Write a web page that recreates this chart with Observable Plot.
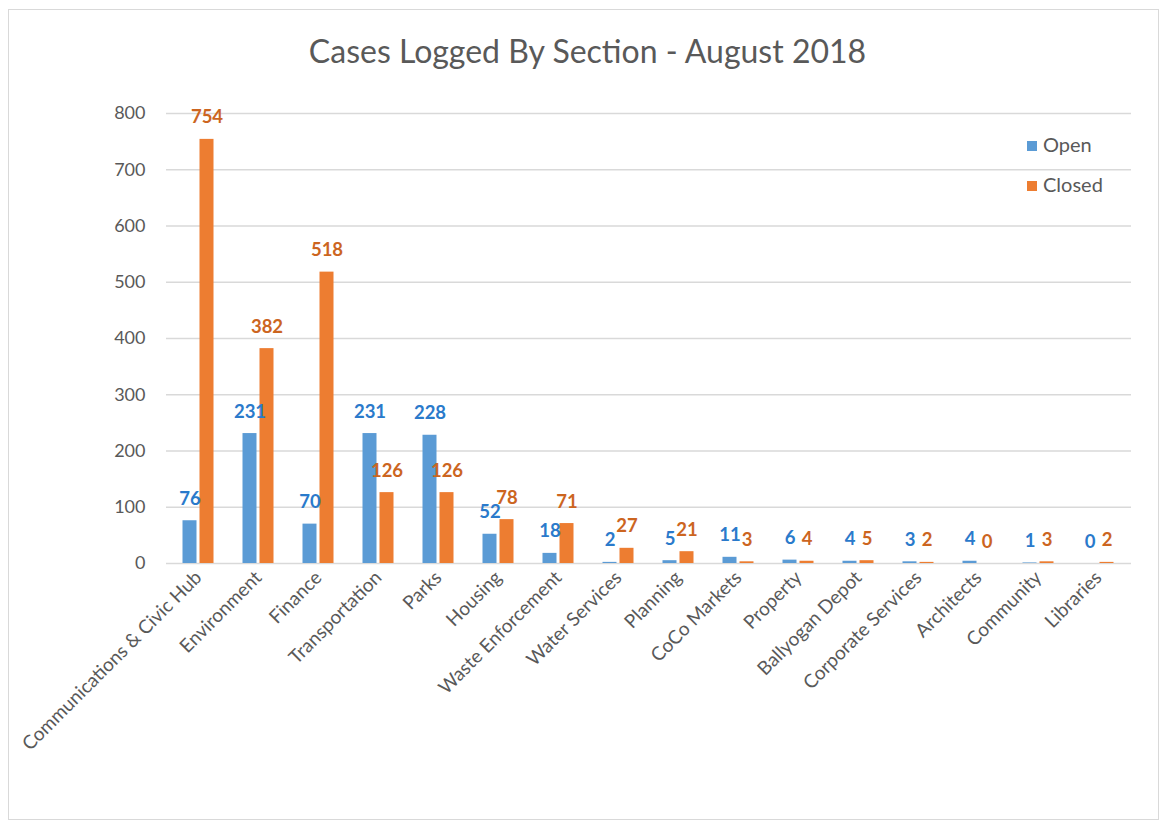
<!DOCTYPE html>
<html>
<head>
<meta charset="utf-8">
<script src="https://cdn.jsdelivr.net/npm/d3@7"></script>
<script src="https://cdn.jsdelivr.net/npm/@observablehq/plot@0.6"></script>
<style>
  html, body { margin: 0; padding: 0; background: #fff; }
  body { width: 1167px; height: 823px; position: relative; overflow: hidden; font-family: Lato, "Open Sans", sans-serif; }
  #frame { position: absolute; left: 8px; top: 9px; width: 1151px; height: 811px; border: 1px solid #d9d9d9; box-sizing: border-box; }
  #title { position: absolute; left: 0; width: 1175px; top: 31px; text-align: center; font-size: 32px; color: #595959; }
  #chart { position: absolute; left: 0; top: 0; }
  .leg { position: absolute; left: 1027px; font-size: 20px; color: #595959; line-height: 22px; }
  .leg span { display: inline-block; width: 10px; height: 10px; margin-right: 6px; vertical-align: 1px; }
</style>
</head>
<body>
<div id="frame"></div>
<div id="chart"></div>
<div id="title">Cases Logged By Section - August 2018</div>
<div class="leg" style="top:133px"><span style="background:#5B9BD5"></span>Open</div>
<div class="leg" style="top:173px"><span style="background:#ED7D31"></span>Closed</div>
<script>
const categories = [
  "Communications & Civic Hub", "Environment", "Finance", "Transportation", "Parks",
  "Housing", "Waste Enforcement", "Water Services", "Planning", "CoCo Markets",
  "Property", "Ballyogan Depot", "Corporate Services", "Architects", "Community", "Libraries"
];
const openValues   = [76, 231, 70, 231, 228, 52, 18, 2, 5, 11, 6, 4, 3, 4, 1, 0];
const closedValues = [754, 382, 518, 126, 126, 78, 71, 27, 21, 3, 4, 5, 2, 0, 3, 2];
const yTicks = [0, 100, 200, 300, 400, 500, 600, 700, 800];

const openData = categories.map((c, i) => ({category: c, value: openValues[i]}));
const closedData = categories.map((c, i) => ({category: c, value: closedValues[i]}));

const BLUE = "#5B9BD5", ORANGE = "#ED7D31";
const BLUE_TXT = "#2a7acb", ORANGE_TXT = "#cc651f";
const off = 8.5;

const chart = Plot.plot({
  width: 1167,
  height: 823,
  marginLeft: 166,
  marginRight: 36,
  marginTop: 113,
  marginBottom: 260,
  style: {fontFamily: "Lato, 'Open Sans', sans-serif", background: "transparent"},
  x: {domain: categories, paddingInner: 0.76, paddingOuter: 0.38, label: null},
  y: {domain: [0, 800], label: null},
  marks: [
    Plot.gridY(yTicks, {stroke: "#d9d9d9", strokeOpacity: 1, strokeWidth: 1.5}),
    Plot.axisY(yTicks, {tickSize: 0, tickPadding: 21, fontSize: 18, fill: "#595959", label: null}),
    Plot.axisX({tickSize: 0, tickPadding: 11, tickRotate: -45, fontSize: 19, fill: "#595959", label: null}),
    Plot.barY(openData, {x: "category", y: "value", fill: BLUE, dx: -off}),
    Plot.barY(closedData, {x: "category", y: "value", fill: ORANGE, dx: off}),
    Plot.text(openData, {x: "category", y: "value", text: d => String(d.value), fill: BLUE_TXT, dx: -off, dy: -16, lineAnchor: "bottom", fontSize: 18.5, fontWeight: "bold"}),
    Plot.text(closedData, {x: "category", y: "value", text: d => String(d.value), fill: ORANGE_TXT, dx: off, dy: -16, lineAnchor: "bottom", fontSize: 18.5, fontWeight: "bold"})
  ]
});
document.getElementById("chart").appendChild(chart);
</script>
</body>
</html>
